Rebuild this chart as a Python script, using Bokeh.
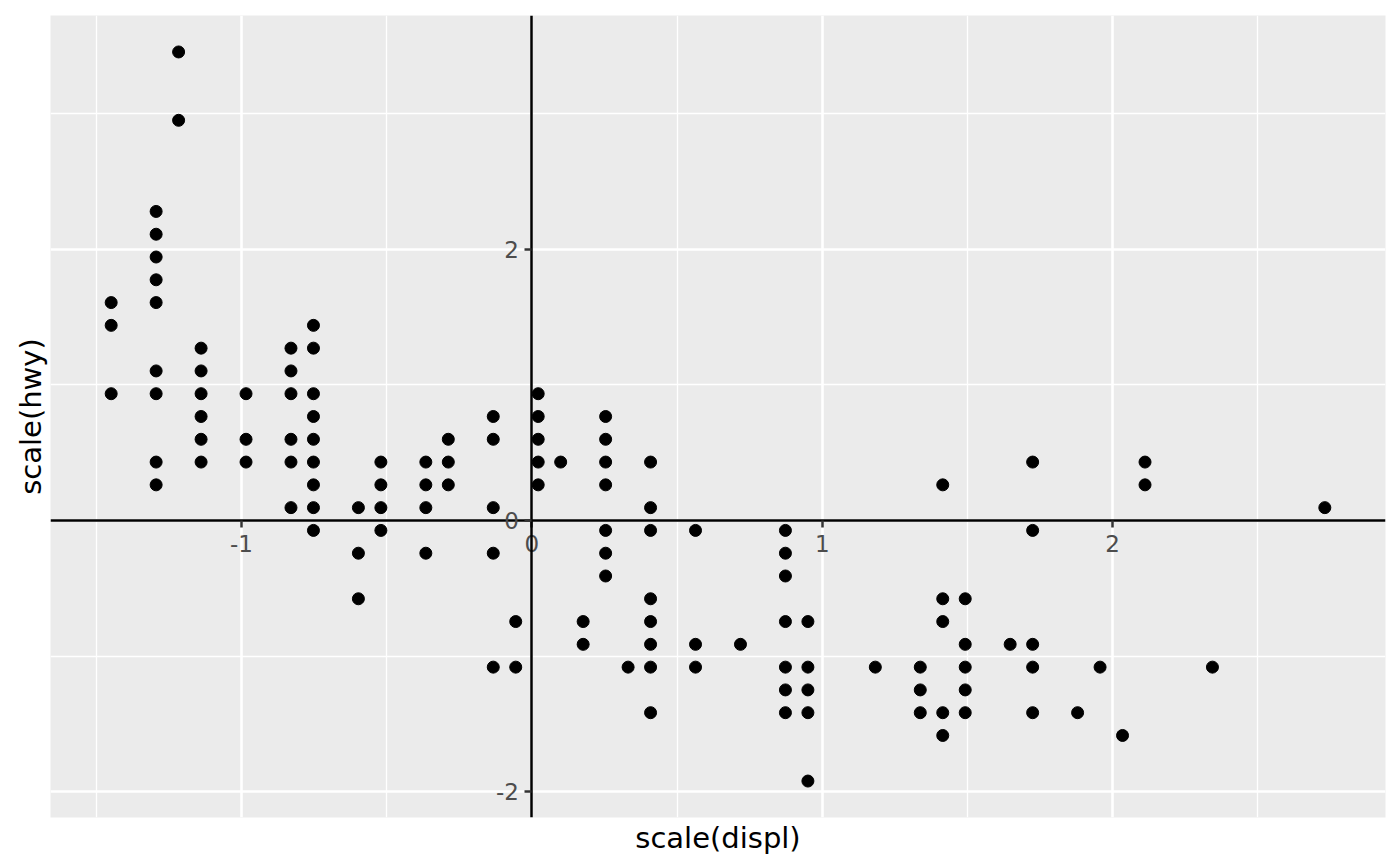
import numpy as np
from bokeh.plotting import figure
from bokeh.models import Range1d, LinearAxis, FixedTicker, CustomJSTickFormatter
from bokeh.embed import file_html
from bokeh.resources import INLINE

# mpg: distinct (displ, hwy) pairs
displ = [1.6, 1.6, 1.6,
         1.8, 1.8, 1.8, 1.8, 1.8, 1.8, 1.8, 1.8, 1.8,
         1.9, 1.9,
         2.0, 2.0, 2.0, 2.0, 2.0, 2.0,
         2.2, 2.2, 2.2,
         2.4, 2.4, 2.4, 2.4, 2.4, 2.4,
         2.5, 2.5, 2.5, 2.5, 2.5, 2.5, 2.5, 2.5, 2.5,
         2.7, 2.7, 2.7,
         2.8, 2.8, 2.8, 2.8,
         3.0, 3.0, 3.0, 3.0,
         3.1, 3.1, 3.1,
         3.3, 3.3, 3.3, 3.3, 3.3,
         3.4, 3.4,
         3.5, 3.5, 3.5, 3.5, 3.5,
         3.6,
         3.7, 3.7,
         3.8, 3.8, 3.8, 3.8, 3.8, 3.8, 3.8,
         3.9,
         4.0, 4.0, 4.0, 4.0, 4.0, 4.0, 4.0, 4.0,
         4.2, 4.2, 4.2,
         4.4,
         4.6, 4.6, 4.6, 4.6, 4.6, 4.6, 4.6,
         4.7, 4.7, 4.7, 4.7, 4.7,
         5.0,
         5.2, 5.2, 5.2,
         5.3, 5.3, 5.3, 5.3, 5.3,
         5.4, 5.4, 5.4, 5.4, 5.4,
         5.6,
         5.7, 5.7, 5.7, 5.7, 5.7,
         5.9,
         6.0,
         6.1,
         6.2, 6.2,
         6.5,
         7.0]
hwy = [33, 32, 29,
       37, 36, 35, 34, 33, 30, 29, 26, 25,
       44, 41,
       31, 30, 29, 28, 27, 26,
       29, 27, 26,
       31, 30, 29, 27, 26, 24,
       32, 31, 29, 28, 27, 26, 25, 24, 23,
       24, 22, 20,
       26, 25, 24, 23,
       26, 25, 24, 22,
       27, 26, 25,
       28, 27, 24, 22, 17,
       19, 17,
       29, 28, 27, 26, 25,
       26,
       19, 18,
       28, 27, 26, 25, 23, 22, 21,
       17,
       26, 24, 23, 20, 19, 18, 17, 15,
       23, 18, 17,
       18,
       23, 22, 21, 19, 17, 16, 15,
       19, 17, 16, 15, 12,
       17,
       17, 16, 15,
       25, 20, 19, 15, 14,
       20, 18, 17, 16, 15,
       18,
       26, 23, 18, 17, 15,
       15,
       17,
       14,
       26, 25,
       17,
       24]

# mean / sd of the full mpg columns (what scale() uses)
displ_mean, displ_sd = 3.471795, 1.291959
hwy_mean, hwy_sd = 23.44017, 5.954643

x_ticks = [-1, 0, 1, 2]
x_minor = [-1.5, -0.5, 0.5, 1.5, 2.5]
y_ticks = [-2, 0, 2]
y_minor = [-1, 1, 3]

x = (np.array(displ) - displ_mean) / displ_sd
y = (np.array(hwy) - hwy_mean) / hwy_sd


def expand(v, mult=0.05):
    # ggplot-style 5% padding
    pad = (v.max() - v.min()) * mult
    return v.min() - pad, v.max() + pad


p = figure(width=1392, height=858,
           x_range=Range1d(*expand(x)), y_range=Range1d(*expand(y)),
           output_backend="svg", toolbar_location=None, tools="",
           min_border_left=50, min_border_right=7, min_border_top=15, min_border_bottom=41,
           background_fill_color="#EBEBEB", border_fill_color="white",
           outline_line_color=None)

# grid
p.xgrid.ticker = FixedTicker(ticks=x_ticks, minor_ticks=x_minor)
p.ygrid.ticker = FixedTicker(ticks=y_ticks, minor_ticks=y_minor)
p.grid.grid_line_color = "white"
p.grid.grid_line_width = 2.6
p.grid.minor_grid_line_color = "white"
p.grid.minor_grid_line_width = 1.3

# axes crossing at the origin
p.xaxis.ticker = FixedTicker(ticks=x_ticks)
p.yaxis.ticker = FixedTicker(ticks=y_ticks)
p.axis.formatter = CustomJSTickFormatter(code="return String(tick)")
p.axis.fixed_location = 0
p.axis.axis_line_color = "black"
p.axis.axis_line_width = 2.5
p.axis.major_tick_line_color = "#333333"
p.axis.major_tick_line_width = 2.5
p.axis.major_tick_out = 7
p.axis.major_tick_in = 0
p.axis.minor_tick_line_color = None
p.axis.major_label_text_font = "DejaVu Sans"
p.axis.major_label_text_font_size = "23px"
p.axis.major_label_text_color = "#4D4D4D"
p.xaxis.major_label_standoff = 8
p.yaxis.major_label_standoff = 6

# axis titles on the outer edges
title_style = dict(ticker=FixedTicker(ticks=[]), axis_line_color=None,
                   major_tick_line_color=None, minor_tick_line_color=None,
                   major_tick_out=0, minor_tick_out=0, major_label_standoff=0,
                   axis_label_standoff=3, axis_label_text_font="DejaVu Sans",
                   axis_label_text_font_size="29px", axis_label_text_font_style="normal",
                   axis_label_text_color="black")
p.add_layout(LinearAxis(axis_label="scale(displ)", **title_style), "below")
p.add_layout(LinearAxis(axis_label="scale(hwy)", **title_style), "left")

p.scatter(x, y, size=12, color="black")

open("out.html", "w").write(file_html(p, INLINE))
